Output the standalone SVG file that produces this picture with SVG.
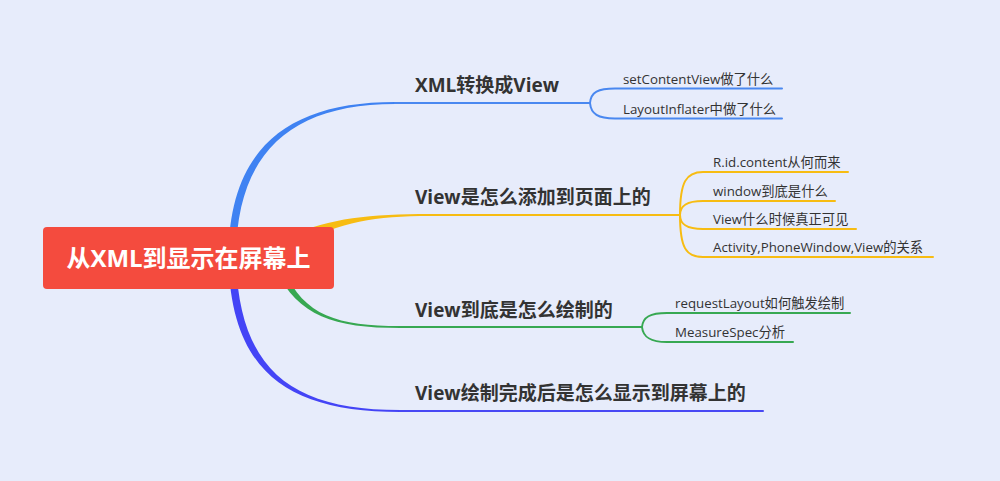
<svg xmlns="http://www.w3.org/2000/svg" width="1000" height="481" viewBox="0 0 1000 481">
<style>
.bg{fill:#E7ECFB}
.ln{fill:none;stroke-width:2;stroke-linecap:round}
.blue{stroke:#4A88F0}
.yel{stroke:#F7BC12}
.grn{stroke:#37A852}
.ind{stroke:#4848F4}
.main{font-family:"Open Sans","Noto Sans CJK SC",sans-serif;font-weight:bold;font-size:19px;fill:#333}
.sub{font-family:"Open Sans","Noto Sans CJK SC",sans-serif;font-size:13.3px;fill:#333}
.root{font-family:"Open Sans","Noto Sans CJK SC",sans-serif;font-weight:bold;font-size:24px;fill:#fff}
</style>
<rect class="bg" x="0" y="0" width="1000" height="481"/>
<g id="connectors">
  <path d="M228.5,258 C228.5,148 288,102 395,102 L395,104 C292,104 236,152 236,258 Z" fill="#3F82F2"/>
  <path class="ln blue" d="M395,103 L590,103"/>
  <path d="M290,236 C330,218 370,214 430,214 L430,216 C375,216 340,222 300,244 Z" fill="#F7BC12"/>
  <path class="ln yel" d="M430,215 L680,215"/>
  <path d="M276,270 C298,316 334,328 400,328 L400,326 C338,326 304,316 284,270 Z" fill="#37A852"/>
  <path class="ln grn" d="M400,327 L642,327"/>
  <path d="M228.5,262 C232,374 290,412 400,412 L400,410 C294,410 240,372 236,262 Z" fill="#4444F6"/>
  <path class="ln ind" d="M400,411 L763,411"/>
  <path class="ln blue" d="M590,103 C591,92 598,88.5 615,88.5 L782,88.5"/>
  <path class="ln blue" d="M590,103 C591,114 598,118.5 615,118.5 L782,118.5"/>
  <path class="ln yel" d="M680,215 C680,182 686,172 703,172 L848,172"/>
  <path class="ln yel" d="M680,215 C680,206 686,201 703,201 L835,201"/>
  <path class="ln yel" d="M680,215 C680,224 686,229 703,229 L856,229"/>
  <path class="ln yel" d="M680,215 C680,248 686,257 703,257 L933,257"/>
  <path class="ln grn" d="M642,327 C643,317 650,313 667,313 L850,313"/>
  <path class="ln grn" d="M642,327 C643,337 650,342 667,342 L793,342"/>
</g>
<g id="root">
  <rect x="43" y="227" width="291" height="62" rx="4" fill="#F44B3E"/>
  <text class="root" x="188.5" y="267" text-anchor="middle">从XML到显示在屏幕上</text>
</g>
<g id="n1"><text class="main" x="415" y="92">XML转换成View</text></g>
<g id="n1a"><text class="sub" x="623" y="84">setContentView做了什么</text></g>
<g id="n1b"><text class="sub" x="623" y="114">LayoutInflater中做了什么</text></g>
<g id="n2"><text class="main" x="415" y="204">View是怎么添加到页面上的</text></g>
<g id="n2a"><text class="sub" x="713" y="167">R.id.content从何而来</text></g>
<g id="n2b"><text class="sub" x="713" y="196">window到底是什么</text></g>
<g id="n2c"><text class="sub" x="713" y="224">View什么时候真正可见</text></g>
<g id="n2d"><text class="sub" x="713" y="252">Activity,PhoneWindow,View的关系</text></g>
<g id="n3"><text class="main" x="415" y="317">View到底是怎么绘制的</text></g>
<g id="n3a"><text class="sub" x="675" y="308">requestLayout如何触发绘制</text></g>
<g id="n3b"><text class="sub" x="675" y="337">MeasureSpec分析</text></g>
<g id="n4"><text class="main" x="415" y="400">View绘制完成后是怎么显示到屏幕上的</text></g>
</svg>
